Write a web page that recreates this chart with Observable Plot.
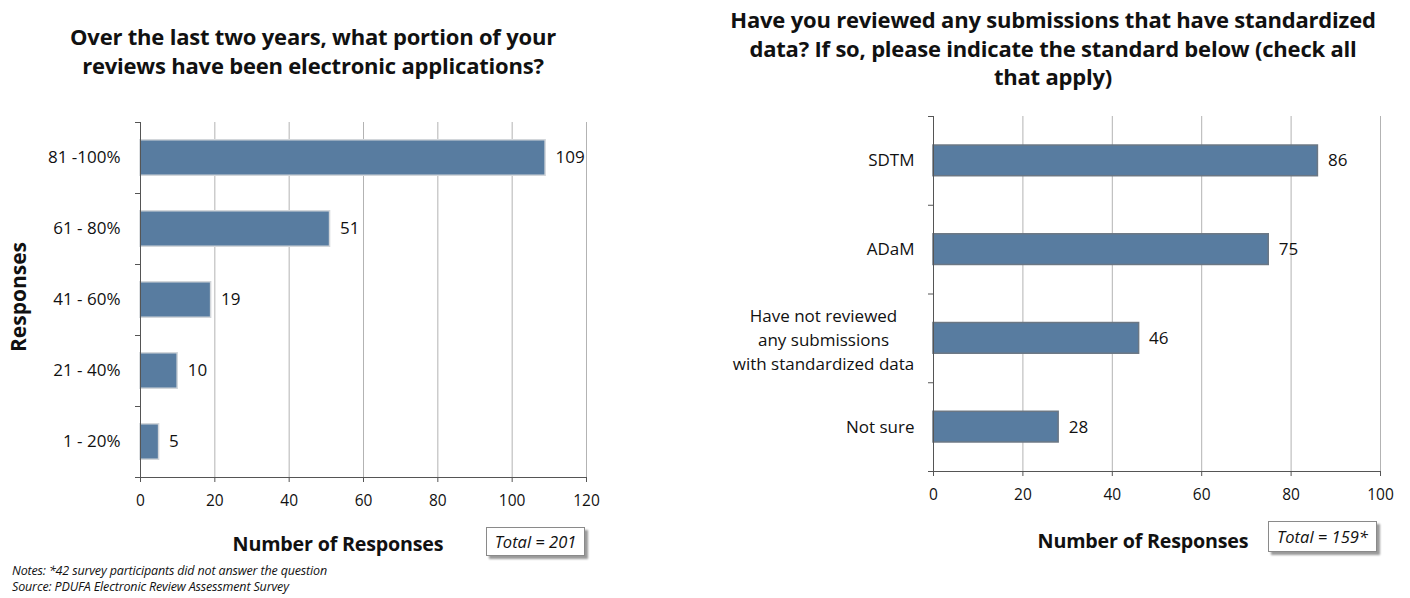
<!DOCTYPE html>
<html>
<head>
<meta charset="utf-8">
<script src="https://cdn.jsdelivr.net/npm/d3@7"></script>
<script src="https://cdn.jsdelivr.net/npm/@observablehq/plot@0.6"></script>
<style>
  html, body { margin: 0; padding: 0; background: #fff; }
  body { width: 1410px; height: 598px; position: relative; overflow: hidden; font-family: "Open Sans", sans-serif; color: #111; }
  .abs { position: absolute; }
  .title { font-weight: bold; font-size: 22px; line-height: 28.5px; text-align: center; white-space: nowrap; letter-spacing: -0.2px; }
  .axtitle { font-weight: bold; font-size: 19.7px; white-space: nowrap; transform: translate(-50%, -50%); letter-spacing: -0.2px; }
  .total { background: #fff; border: 1px solid #8a8a8a; box-shadow: 3px 3px 2px #9a9a9a; font-style: italic; font-size: 16.5px; display: flex; align-items: center; justify-content: center; box-sizing: border-box; }
  .notes { font-style: italic; font-size: 12.5px; line-height: 16px; white-space: nowrap; letter-spacing: -0.15px; }
  .ylab { font-weight: bold; font-size: 21px; white-space: nowrap; transform: translate(-50%, -50%) rotate(-90deg); }
</style>
</head>
<body>
<div id="left" class="abs" style="left:0px; top:100px;"></div>
<div id="right" class="abs" style="left:700px; top:100px;"></div>

<div class="abs title" style="left:313px; top:22px; transform:translateX(-50%);">Over the last two years, what portion of your<br>reviews have been electronic applications?</div>
<div class="abs title" style="left:1053px; top:5px; transform:translateX(-50%);">Have you reviewed any submissions that have standardized<br>data? If so, please indicate the standard below (check all<br>that apply)</div>

<div class="abs ylab" style="left:18px; top:297px;">Responses</div>

<div class="abs axtitle" style="left:338px; top:543px;">Number of Responses</div>
<div class="abs axtitle" style="left:1143px; top:540px;">Number of Responses</div>

<div class="abs total" style="left:486px; top:527px; width:99px; height:29px;">Total = 201</div>
<div class="abs total" style="left:1268px; top:521px; width:109px; height:31px;">Total = 159*</div>

<div class="abs notes" style="left:12px; top:563px;">Notes: *42 survey participants did not answer the question<br>Source: PDUFA Electronic Review Assessment Survey</div>

<script>
// ---- Data ----
const leftCategories = ["81 -100%", "61 - 80%", "41 - 60%", "21 - 40%", "1 - 20%"];
const leftValues = [109, 51, 19, 10, 5];
const leftTicks = [0, 20, 40, 60, 80, 100, 120];

const rightCategories = ["SDTM", "ADaM", "Have not reviewed\nany submissions\nwith standardized data", "Not sure"];
const rightValues = [86, 75, 46, 28];
const rightTicks = [0, 20, 40, 60, 80, 100];

const barFill = "#587ca0";

function barChart({categories, values, ticks, width, height, margins, inset, barStroke, labelPad, multiAnchorDx}) {
  const rows = categories.map((c, i) => ({category: c, value: values[i], i}));
  const n = categories.length;
  const single = rows.filter(d => !d.category.includes("\n"));
  const multi = rows.filter(d => d.category.includes("\n"));
  return Plot.plot({
    width, height,
    marginLeft: margins[0], marginRight: margins[1], marginTop: margins[2], marginBottom: margins[3],
    style: {fontFamily: "'Open Sans', sans-serif", color: "#111", background: "transparent"},
    x: {domain: [ticks[0], ticks[ticks.length - 1]]},
    y: {domain: [0, n], reverse: true},
    marks: [
      Plot.ruleX(ticks.filter(t => t > 0), {stroke: "#b3b3b3", strokeWidth: 1}),
      Plot.rect(rows, {
        x1: 0, x2: "value",
        y1: d => d.i + inset, y2: d => d.i + 1 - inset,
        fill: barFill, stroke: barStroke, strokeWidth: 1.5
      }),
      Plot.ruleX([0], {stroke: "#555"}),
      Plot.ruleY([n], {stroke: "#555"}),
      Plot.axisX({ticks, tickSize: 5, tickPadding: 12, fontSize: 15.5, label: null, stroke: "#555", fill: "#111"}),
      Plot.axisY({ticks: d3.range(n + 1), tickFormat: () => "", tickSize: 5, label: null, stroke: "#555"}),
      Plot.axisY({
        ticks: single.map(d => d.i + 0.5),
        tickFormat: v => categories[Math.floor(v)],
        tickSize: 0, tickPadding: labelPad, fontSize: 17, label: null, fill: "#111"
      }),
      Plot.text(multi, {
        x: 0, y: d => d.i + 0.5, text: "category",
        textAnchor: "middle", dx: multiAnchorDx, fontSize: 17, lineHeight: 1.41, fill: "#111"
      }),
      Plot.text(rows, {
        x: "value", y: d => d.i + 0.5, text: d => String(d.value),
        textAnchor: "start", dx: 10, fontSize: 17, fill: "#111"
      })
    ]
  });
}

document.getElementById("left").appendChild(barChart({
  categories: leftCategories, values: leftValues, ticks: leftTicks,
  width: 620, height: 420, margins: [140, 34, 22, 43], inset: 0.25,
  barStroke: "#d2d6da", labelPad: 20, multiAnchorDx: -100
}));

document.getElementById("right").appendChild(barChart({
  categories: rightCategories, values: rightValues, ticks: rightTicks,
  width: 710, height: 410, margins: [233, 30, 16, 39], inset: 0.327,
  barStroke: "#6b7784", labelPad: 19, multiAnchorDx: -110
}));
</script>
</body>
</html>
